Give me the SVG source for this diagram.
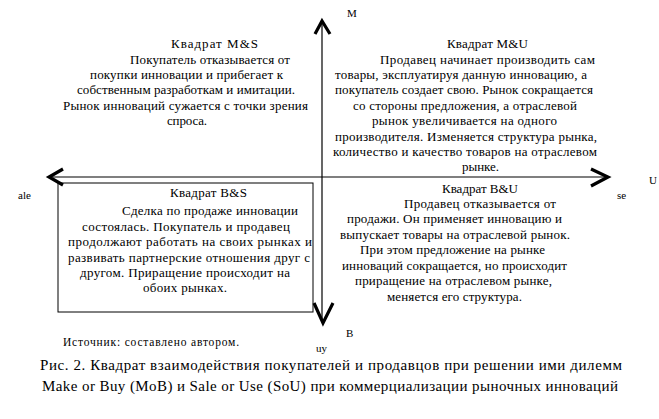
<svg xmlns="http://www.w3.org/2000/svg" width="659" height="419" viewBox="0 0 659 419">
<style>
.b{font-size:13px}
.s{font-size:11.5px}
.l{font-size:11px}
.c{font-size:15px}
.ax{stroke:#000;stroke-width:1.2;fill:none}
.ah{stroke:#000;stroke-width:3.2;fill:none;stroke-linecap:butt;stroke-linejoin:miter}
</style>
<rect width="659" height="419" fill="#fff"/>
<g id="connectors">
<line class="ax" x1="50" y1="177" x2="607" y2="177"/>
<line class="ax" x1="322" y1="23" x2="322" y2="321"/>
<polyline class="ah" points="63,169 49,177 63,185"/>
<polyline class="ah" points="591,169 608,177 591,186"/>
<polyline class="ah" points="315,34 322,21 330,34"/>
<polyline class="ah" points="314,303 323,323 333,303"/>
</g>
<g font-family="Liberation Serif, DejaVu Serif, serif" fill="#000">
<g id="axis-labels">
<text class="l" x="347" y="17">M</text>
<text class="l" x="649" y="184">U</text>
<text class="l" x="617" y="199">se</text>
<text class="l" x="18" y="199">ale</text>
<text class="l" x="346" y="337">B</text>
<text class="l" x="316" y="352">uy</text>
</g>
<g id="quadrant-ms">
<text class="b" x="171" y="48" textLength="87" lengthAdjust="spacing">Квадрат M&amp;S</text>
<text class="b" x="130" y="64" textLength="160" lengthAdjust="spacing">Покупатель отказывается от</text>
<text class="b" x="90" y="79" textLength="193" lengthAdjust="spacing">покупки инновации и прибегает к</text>
<text class="b" x="77" y="94" textLength="218" lengthAdjust="spacing">собственным разработкам и имитации.</text>
<text class="b" x="63" y="110" textLength="245" lengthAdjust="spacing">Рынок инноваций сужается с точки зрения</text>
<text class="b" x="167" y="125" textLength="40" lengthAdjust="spacing">спроса.</text>
</g>
<g id="quadrant-mu">
<text class="b" x="447" y="48" textLength="81" lengthAdjust="spacing">Квадрат M&amp;U</text>
<text class="b" x="380" y="64" textLength="215" lengthAdjust="spacing">Продавец начинает производить сам</text>
<text class="b" x="335" y="79" textLength="252" lengthAdjust="spacing">товары, эксплуатируя данную инновацию, а</text>
<text class="b" x="335" y="94" textLength="258" lengthAdjust="spacing">покупатель создает свою. Рынок сокращается</text>
<text class="b" x="353" y="110" textLength="224" lengthAdjust="spacing">со стороны предложения, а отраслевой</text>
<text class="b" x="372" y="125" textLength="185" lengthAdjust="spacing">рынок увеличивается на одного</text>
<text class="b" x="335" y="141" textLength="262" lengthAdjust="spacing">производителя. Изменяется структура рынка,</text>
<text class="b" x="333" y="156" textLength="264" lengthAdjust="spacing">количество и качество товаров на отраслевом</text>
<text class="b" x="462" y="171" textLength="37" lengthAdjust="spacing">рынке.</text>
</g>
<g id="quadrant-bs">
<rect x="58" y="183" width="255" height="129" fill="none" stroke="#000" stroke-width="1"/>
<text class="b" x="170" y="197" textLength="77" lengthAdjust="spacing">Квадрат B&amp;S</text>
<text class="b" x="122" y="215" textLength="176" lengthAdjust="spacing">Сделка по продаже инновации</text>
<text class="b" x="82" y="231" textLength="208" lengthAdjust="spacing">состоялась. Покупатель и продавец</text>
<text class="b" x="68" y="246" textLength="244" lengthAdjust="spacing">продолжают работать на своих рынках и</text>
<text class="b" x="68" y="262" textLength="242" lengthAdjust="spacing">развивать партнерские отношения друг с</text>
<text class="b" x="80" y="277" textLength="210" lengthAdjust="spacing">другом. Приращение происходит на</text>
<text class="b" x="143" y="292" textLength="84" lengthAdjust="spacing">обоих рынках.</text>
</g>
<g id="quadrant-bu">
<text class="b" x="442" y="193" textLength="76" lengthAdjust="spacing">Квадрат B&amp;U</text>
<text class="b" x="404" y="208" textLength="152" lengthAdjust="spacing">Продавец отказывается от</text>
<text class="b" x="347" y="223" textLength="215" lengthAdjust="spacing">продажи. Он применяет инновацию и</text>
<text class="b" x="340" y="239" textLength="230" lengthAdjust="spacing">выпускает товары на отраслевой рынок.</text>
<text class="b" x="360" y="254" textLength="185" lengthAdjust="spacing">При этом предложение на рынке</text>
<text class="b" x="342" y="270" textLength="225" lengthAdjust="spacing">инноваций сокращается, но происходит</text>
<text class="b" x="355" y="285" textLength="197" lengthAdjust="spacing">приращение на отраслевом рынке,</text>
<text class="b" x="387" y="301" textLength="135" lengthAdjust="spacing">меняется его структура.</text>
</g>
<g id="caption">
<text class="s" x="63" y="346" textLength="176" lengthAdjust="spacing">Источник: составлено автором.</text>
<text class="c" x="40" y="370" textLength="582" lengthAdjust="spacing">Рис. 2. Квадрат взаимодействия покупателей и продавцов при решении ими дилемм</text>
<text class="c" x="42" y="391" textLength="576" lengthAdjust="spacing">Make or Buy (MoB) и Sale or Use (SoU) при коммерциализации рыночных инноваций</text>
</g>
</g>
</svg>
